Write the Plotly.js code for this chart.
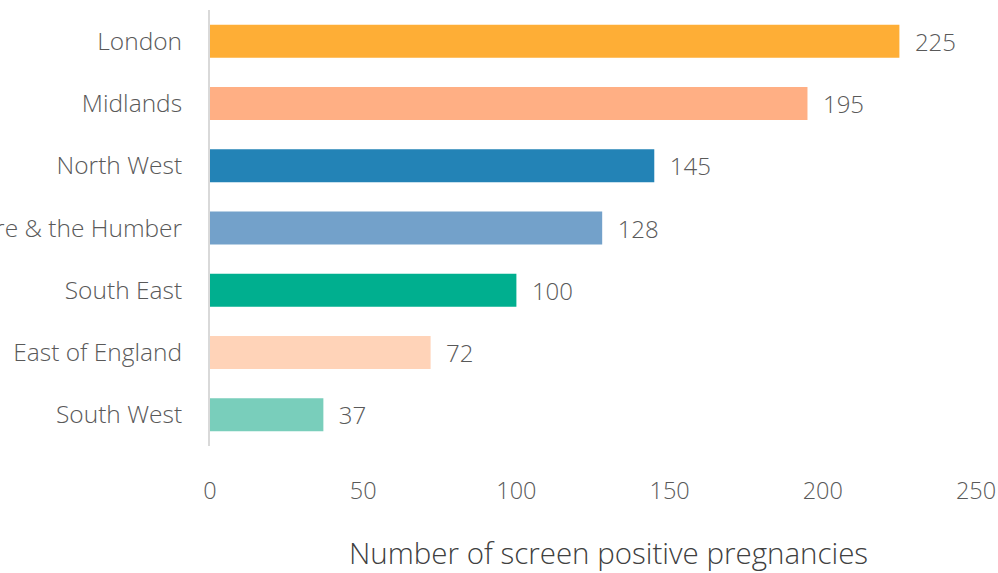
<!DOCTYPE html>
<html>
<head>
<meta charset="utf-8">
<script src="https://cdn.plot.ly/plotly-3.0.1.min.js"></script>
<style>html,body{margin:0;padding:0;background:#fff;}#chart{width:998px;height:573px;}</style>
</head>
<body>
<div id="chart"></div>
<script>
const regions = ["London", "Midlands", "North West", "Yorkshire & the Humber", "South East", "East of England", "South West"];
const positives = [225, 195, 145, 128, 100, 72, 37];
const barColors = ["#FEAE36", "#FFAF84", "#2383B6", "#73A1CA", "#00AF8F", "#FFD3B8", "#79CEBB"];
const xTicks = [0, 50, 100, 150, 200, 250];
const xTitle = "Number of screen positive pregnancies";

const font = "'Open Sans', 'Noto Sans', sans-serif";
const textColor = "#595959";

const trace = {
  type: "bar",
  orientation: "h",
  y: regions,
  x: positives,
  marker: {color: barColors},
  text: positives.map(String),
  texttemplate: "  %{text}",
  textposition: "outside",
  cliponaxis: false,
  textfont: {family: font, size: 24, color: textColor, weight: 300},
  hoverinfo: "none"
};

const layout = {
  width: 998,
  height: 573,
  margin: {l: 210, r: 22, t: 10, b: 127, pad: 0},
  paper_bgcolor: "#ffffff",
  plot_bgcolor: "#ffffff",
  showlegend: false,
  bargap: 0.47,
  font: {family: font, color: textColor, weight: 300},
  xaxis: {
    range: [0, 250],
    tickvals: xTicks,
    ticktext: xTicks.map(String),
    showgrid: false,
    zeroline: false,
    showline: false,
    ticks: "",
    ticklabelstandoff: 28,
    tickfont: {family: font, size: 23.5, color: textColor, weight: 300},
    automargin: false
  },
  yaxis: {
    autorange: "reversed",
    showgrid: false,
    zeroline: false,
    showline: true,
    linecolor: "#D9D9D9",
    linewidth: 2,
    ticks: "",
    ticklabelstandoff: 21,
    tickfont: {family: font, size: 24.5, color: textColor, weight: 300},
    automargin: false
  },
  annotations: [{
    text: xTitle,
    xref: "paper", yref: "paper",
    x: 0.52, y: -0.245,
    xanchor: "center", yanchor: "middle",
    showarrow: false,
    borderpad: 0,
    font: {family: font, size: 29.5, color: "#404040", weight: 300}
  }]
};

Plotly.newPlot("chart", [trace], layout, {staticPlot: true, displayModeBar: false});
</script>
</body>
</html>
